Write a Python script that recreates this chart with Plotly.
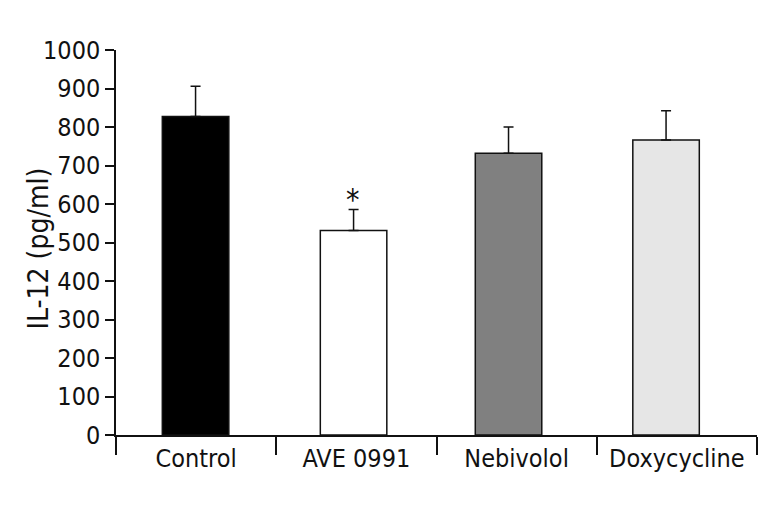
import plotly.graph_objects as go

categories = ["Control", "AVE 0991", "Nebivolol", "Doxycycline"]
means = [827, 531, 732, 766]
errors = [79, 55, 68, 76]
colors = ["#000000", "#ffffff", "#808080", "#e6e6e6"]
y_ticks = list(range(0, 1001, 100))
font_family = "DejaVu Sans Condensed, Liberation Sans Narrow, Arial Narrow, sans-serif"

# bar placement (style): bars sit slightly left of category centres in the original
bar_width = 0.415
bar_offsets = [-0.211, -0.225, -0.258, -0.275]

fig = go.Figure()
fig.add_trace(go.Bar(
    x=categories, y=means,
    width=bar_width, offset=bar_offsets,
    marker=dict(color=colors, line=dict(color="#111111", width=1.5)),
    error_y=dict(type="data", array=errors, symmetric=False, arrayminus=[0]*4,
                 color="#111111", thickness=1.5, width=5),
    showlegend=False,
))

fig.add_annotation(x=categories[1], y=means[1] + errors[1], text="*",
                   showarrow=False, yshift=10, xshift=-3,
                   font=dict(size=30, color="#111111", family=font_family))

# y-axis title as rotated annotation
fig.add_annotation(xref="paper", yref="paper", x=0, y=0.5, xanchor="center", yanchor="middle",
                   xshift=-78, yshift=-6, textangle=-90, showarrow=False,
                   text="IL-12 (pg/ml)", font=dict(size=28, color="#111111", family=font_family))

fig.update_layout(
    width=771, height=514,
    margin=dict(l=108, r=22, t=42, b=87),
    plot_bgcolor="white", paper_bgcolor="white",
    font=dict(family=font_family, color="#111111", size=24),
)
fig.update_xaxes(
    automargin=False,
    showline=True, linecolor="#111111", linewidth=1.5,
    ticks="outside", tickson="boundaries", ticklen=18, tickwidth=1.5, tickcolor="#111111",
    tickfont=dict(size=25), showgrid=False,
)
fig.update_yaxes(
    automargin=False,
    range=[0, 1000], tickvals=y_ticks,
    showline=True, linecolor="#111111", linewidth=1.5,
    ticks="outside", ticklen=9, tickwidth=1.5, tickcolor="#111111",
    tickfont=dict(size=25), showgrid=False, zeroline=False,
)

fig.write_html("out.html")
